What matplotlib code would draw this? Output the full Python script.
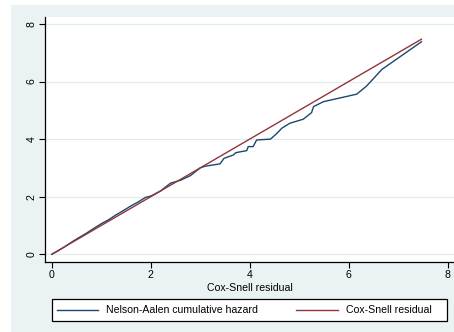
import numpy as np
import matplotlib
matplotlib.use("Agg")
import matplotlib.pyplot as plt
from matplotlib.patches import Rectangle

plt.rcParams['font.family'] = ['Liberation Sans', 'DejaVu Sans']

# Cox-Snell residuals and the Nelson-Aalen cumulative hazard at those residuals
cs_resid = [0, 0.1, 0.25, 0.4, 0.55, 0.7, 0.85, 1.0, 1.15, 1.3, 1.45, 1.6, 1.75,
            1.9, 2.0, 2.2, 2.4, 2.6, 2.8, 3.0, 3.1, 3.4, 3.48, 3.67, 3.72, 3.94,
            3.97, 4.07, 4.14, 4.42, 4.55, 4.65, 4.81, 5.08, 5.25, 5.29, 5.49,
            6.16, 6.36, 6.67, 7.47]
na_hazard = [0, 0.09, 0.25, 0.42, 0.58, 0.73, 0.9, 1.06, 1.2, 1.37, 1.52, 1.68,
             1.82, 1.98, 2.02, 2.2, 2.47, 2.57, 2.73, 3.0, 3.06, 3.14, 3.33, 3.45,
             3.53, 3.60, 3.74, 3.74, 3.97, 4.00, 4.20, 4.38, 4.55, 4.69, 4.92,
             5.13, 5.30, 5.56, 5.84, 6.42, 7.38]
ticks = [0, 2, 4, 6, 8]

navy = '#1A476F'
maroon = '#90353B'
bg = '#EAF2F3'
fs = 7.6

W, H = 454, 332
fig = plt.figure(figsize=(W / 100, H / 100), dpi=100)
fig.patch.set_facecolor('white')

# graph region background
bgax = fig.add_axes([11 / W, 0, 1 - 11 / W, 1 - 5 / H], zorder=-1)
bgax.set_facecolor(bg)
bgax.set_xticks([])
bgax.set_yticks([])
for s in bgax.spines.values():
    s.set_visible(False)

ax = fig.add_axes([45 / W, 1 - 262 / H, 1 - 45 / W, (262 - 17) / H])
ax.set_facecolor('white')
ax.plot(cs_resid, na_hazard, color=navy, lw=1.0, label='Nelson-Aalen cumulative hazard')
ax.plot(cs_resid, cs_resid, color=maroon, lw=1.0, label='Cox-Snell residual')

ax.set_xlim(-0.135, 8.127)
ax.set_ylim(-0.267, 8.24)
ax.set_xticks(ticks)
ax.set_yticks(ticks)
ax.yaxis.grid(True, color='#E3ECED', lw=0.9)
ax.set_axisbelow(True)
for s in ['top', 'right']:
    ax.spines[s].set_visible(False)
for s in ['left', 'bottom']:
    ax.spines[s].set_linewidth(0.9)
ax.tick_params(direction='out', length=4, width=0.8, labelsize=fs, pad=2)
for lab in ax.get_yticklabels():
    lab.set_rotation(90)
    lab.set_va('center')
ax.set_xlabel('Cox-Snell residual', fontsize=fs, labelpad=2)

# legend box drawn separately so the entries can sit left-aligned inside it
bgax.add_patch(Rectangle((51.7 / W, 1 - 321 / H), 395 / W, 21.7 / H,
                         transform=fig.transFigure, facecolor='white',
                         edgecolor='black', lw=0.9))
h, l = ax.get_legend_handles_labels()
fig.legend(h, l, loc='center left', ncol=2,
           bbox_to_anchor=(56.7 / W, 1 - 310.2 / H),
           fontsize=fs, handlelength=3.95, handletextpad=0.72,
           columnspacing=3.65, frameon=False, borderaxespad=0, borderpad=0)

fig.savefig('out.png', dpi=100, facecolor=fig.get_facecolor())
